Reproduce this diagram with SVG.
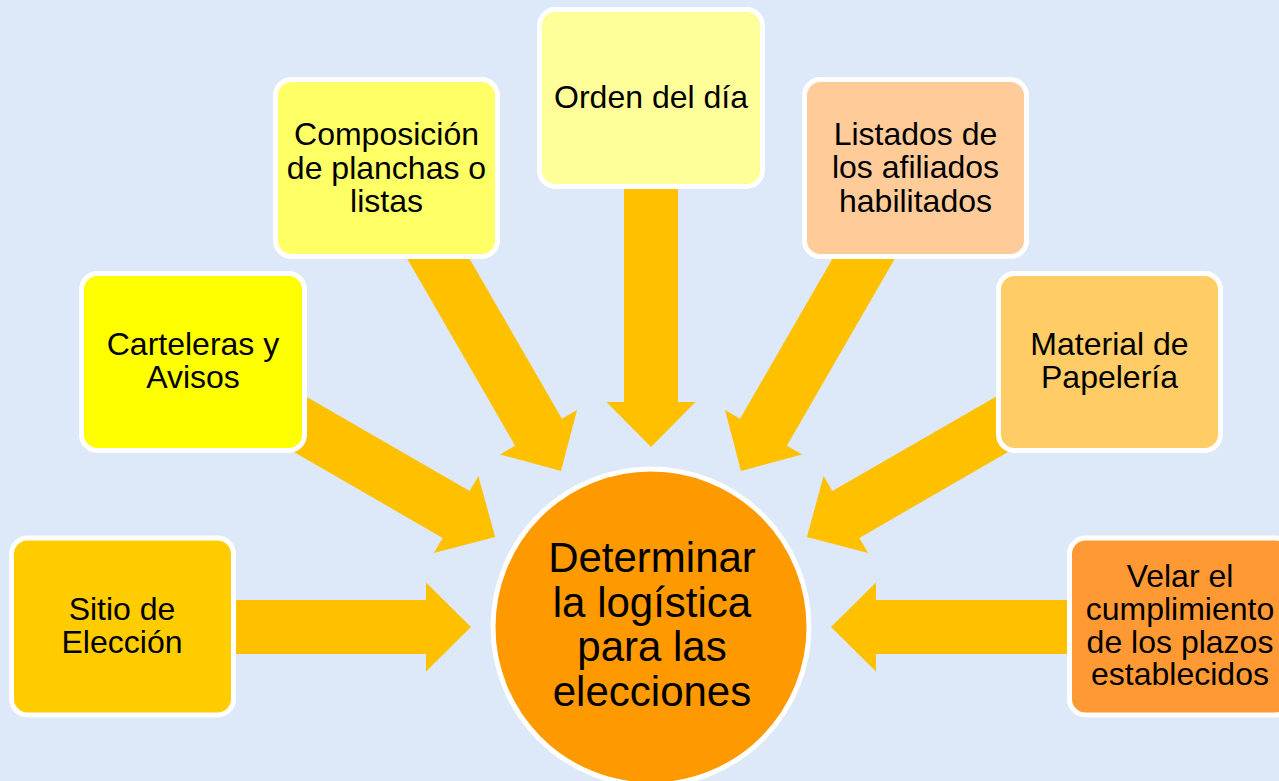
<svg xmlns="http://www.w3.org/2000/svg" width="1279" height="781" viewBox="0 0 1279 781">
<style>
.bg{fill:#dde8f8}
.box{stroke:#ffffff;stroke-width:5}
.arr{fill:#ffc000}
.t{font-family:"Liberation Sans",Arial,sans-serif;font-size:32px;fill:#000;text-anchor:middle}
.tc{font-family:"Liberation Sans",Arial,sans-serif;font-size:42px;fill:#000;text-anchor:middle}
</style>
<rect class="bg" x="0" y="0" width="1279" height="781"/>
<g id="connectors">
<path class="arr" transform="translate(651 627) rotate(0)" d="M -480 -27 L -225 -27 L -225 -44.5 L -180 0 L -225 44.5 L -225 27 L -480 27 Z"/>
<path class="arr" transform="translate(651 627) rotate(30)" d="M -480 -27 L -225 -27 L -225 -44.5 L -180 0 L -225 44.5 L -225 27 L -480 27 Z"/>
<path class="arr" transform="translate(651 627) rotate(60)" d="M -480 -27 L -225 -27 L -225 -44.5 L -180 0 L -225 44.5 L -225 27 L -480 27 Z"/>
<path class="arr" transform="translate(651 627) rotate(90)" d="M -480 -27 L -225 -27 L -225 -44.5 L -180 0 L -225 44.5 L -225 27 L -480 27 Z"/>
<path class="arr" transform="translate(651 627) rotate(120)" d="M -480 -27 L -225 -27 L -225 -44.5 L -180 0 L -225 44.5 L -225 27 L -480 27 Z"/>
<path class="arr" transform="translate(651 627) rotate(150)" d="M -480 -27 L -225 -27 L -225 -44.5 L -180 0 L -225 44.5 L -225 27 L -480 27 Z"/>
<path class="arr" transform="translate(651 627) rotate(180)" d="M -480 -27 L -225 -27 L -225 -44.5 L -180 0 L -225 44.5 L -225 27 L -480 27 Z"/>
</g>
<g id="center">
<circle class="box" cx="651" cy="627" r="158" fill="#ff9900"/>
<text class="tc" x="652"><tspan x="652" y="572">Determinar</tspan><tspan x="652" y="616.5">la logística</tspan><tspan x="652" y="661">para las</tspan><tspan x="652" y="705.5">elecciones</tspan></text>
</g>
<g id="sitio">
<rect class="box" x="11.5" y="538" width="222" height="177" rx="16" fill="#ffcc00"/>
<text class="t"><tspan x="122" y="620">Sitio de</tspan><tspan x="122" y="653">Elección</tspan></text>
</g>
<g id="carteleras">
<rect class="box" x="81.5" y="273.5" width="223" height="177" rx="16" fill="#ffff00"/>
<text class="t"><tspan x="193" y="355">Carteleras y</tspan><tspan x="193" y="388">Avisos</tspan></text>
</g>
<g id="composicion">
<rect class="box" x="275.5" y="79.5" width="222" height="177" rx="16" fill="#ffff66"/>
<text class="t"><tspan x="386.5" y="145">Composición</tspan><tspan x="386.5" y="178.5">de planchas o</tspan><tspan x="386.5" y="212">listas</tspan></text>
</g>
<g id="orden">
<rect class="box" x="539.5" y="9.5" width="223" height="177" rx="16" fill="#ffff99"/>
<text class="t"><tspan x="651" y="108">Orden del día</tspan></text>
</g>
<g id="listados">
<rect class="box" x="804.5" y="79.5" width="222" height="177" rx="16" fill="#ffcc99"/>
<text class="t"><tspan x="915.5" y="144.5">Listados de</tspan><tspan x="915.5" y="178">los afiliados</tspan><tspan x="915.5" y="211.5">habilitados</tspan></text>
</g>
<g id="material">
<rect class="box" x="998.5" y="273.5" width="222" height="177" rx="16" fill="#ffcc66"/>
<text class="t"><tspan x="1109.5" y="355">Material de</tspan><tspan x="1109.5" y="388">Papelería</tspan></text>
</g>
<g id="velar">
<rect class="box" x="1069.5" y="538" width="222" height="177" rx="16" fill="#ff9933"/>
<text class="t"><tspan x="1180" y="587">Velar el</tspan><tspan x="1180" y="620">cumplimiento</tspan><tspan x="1180" y="652.5">de los plazos</tspan><tspan x="1180" y="685">establecidos</tspan></text>
</g>
</svg>
